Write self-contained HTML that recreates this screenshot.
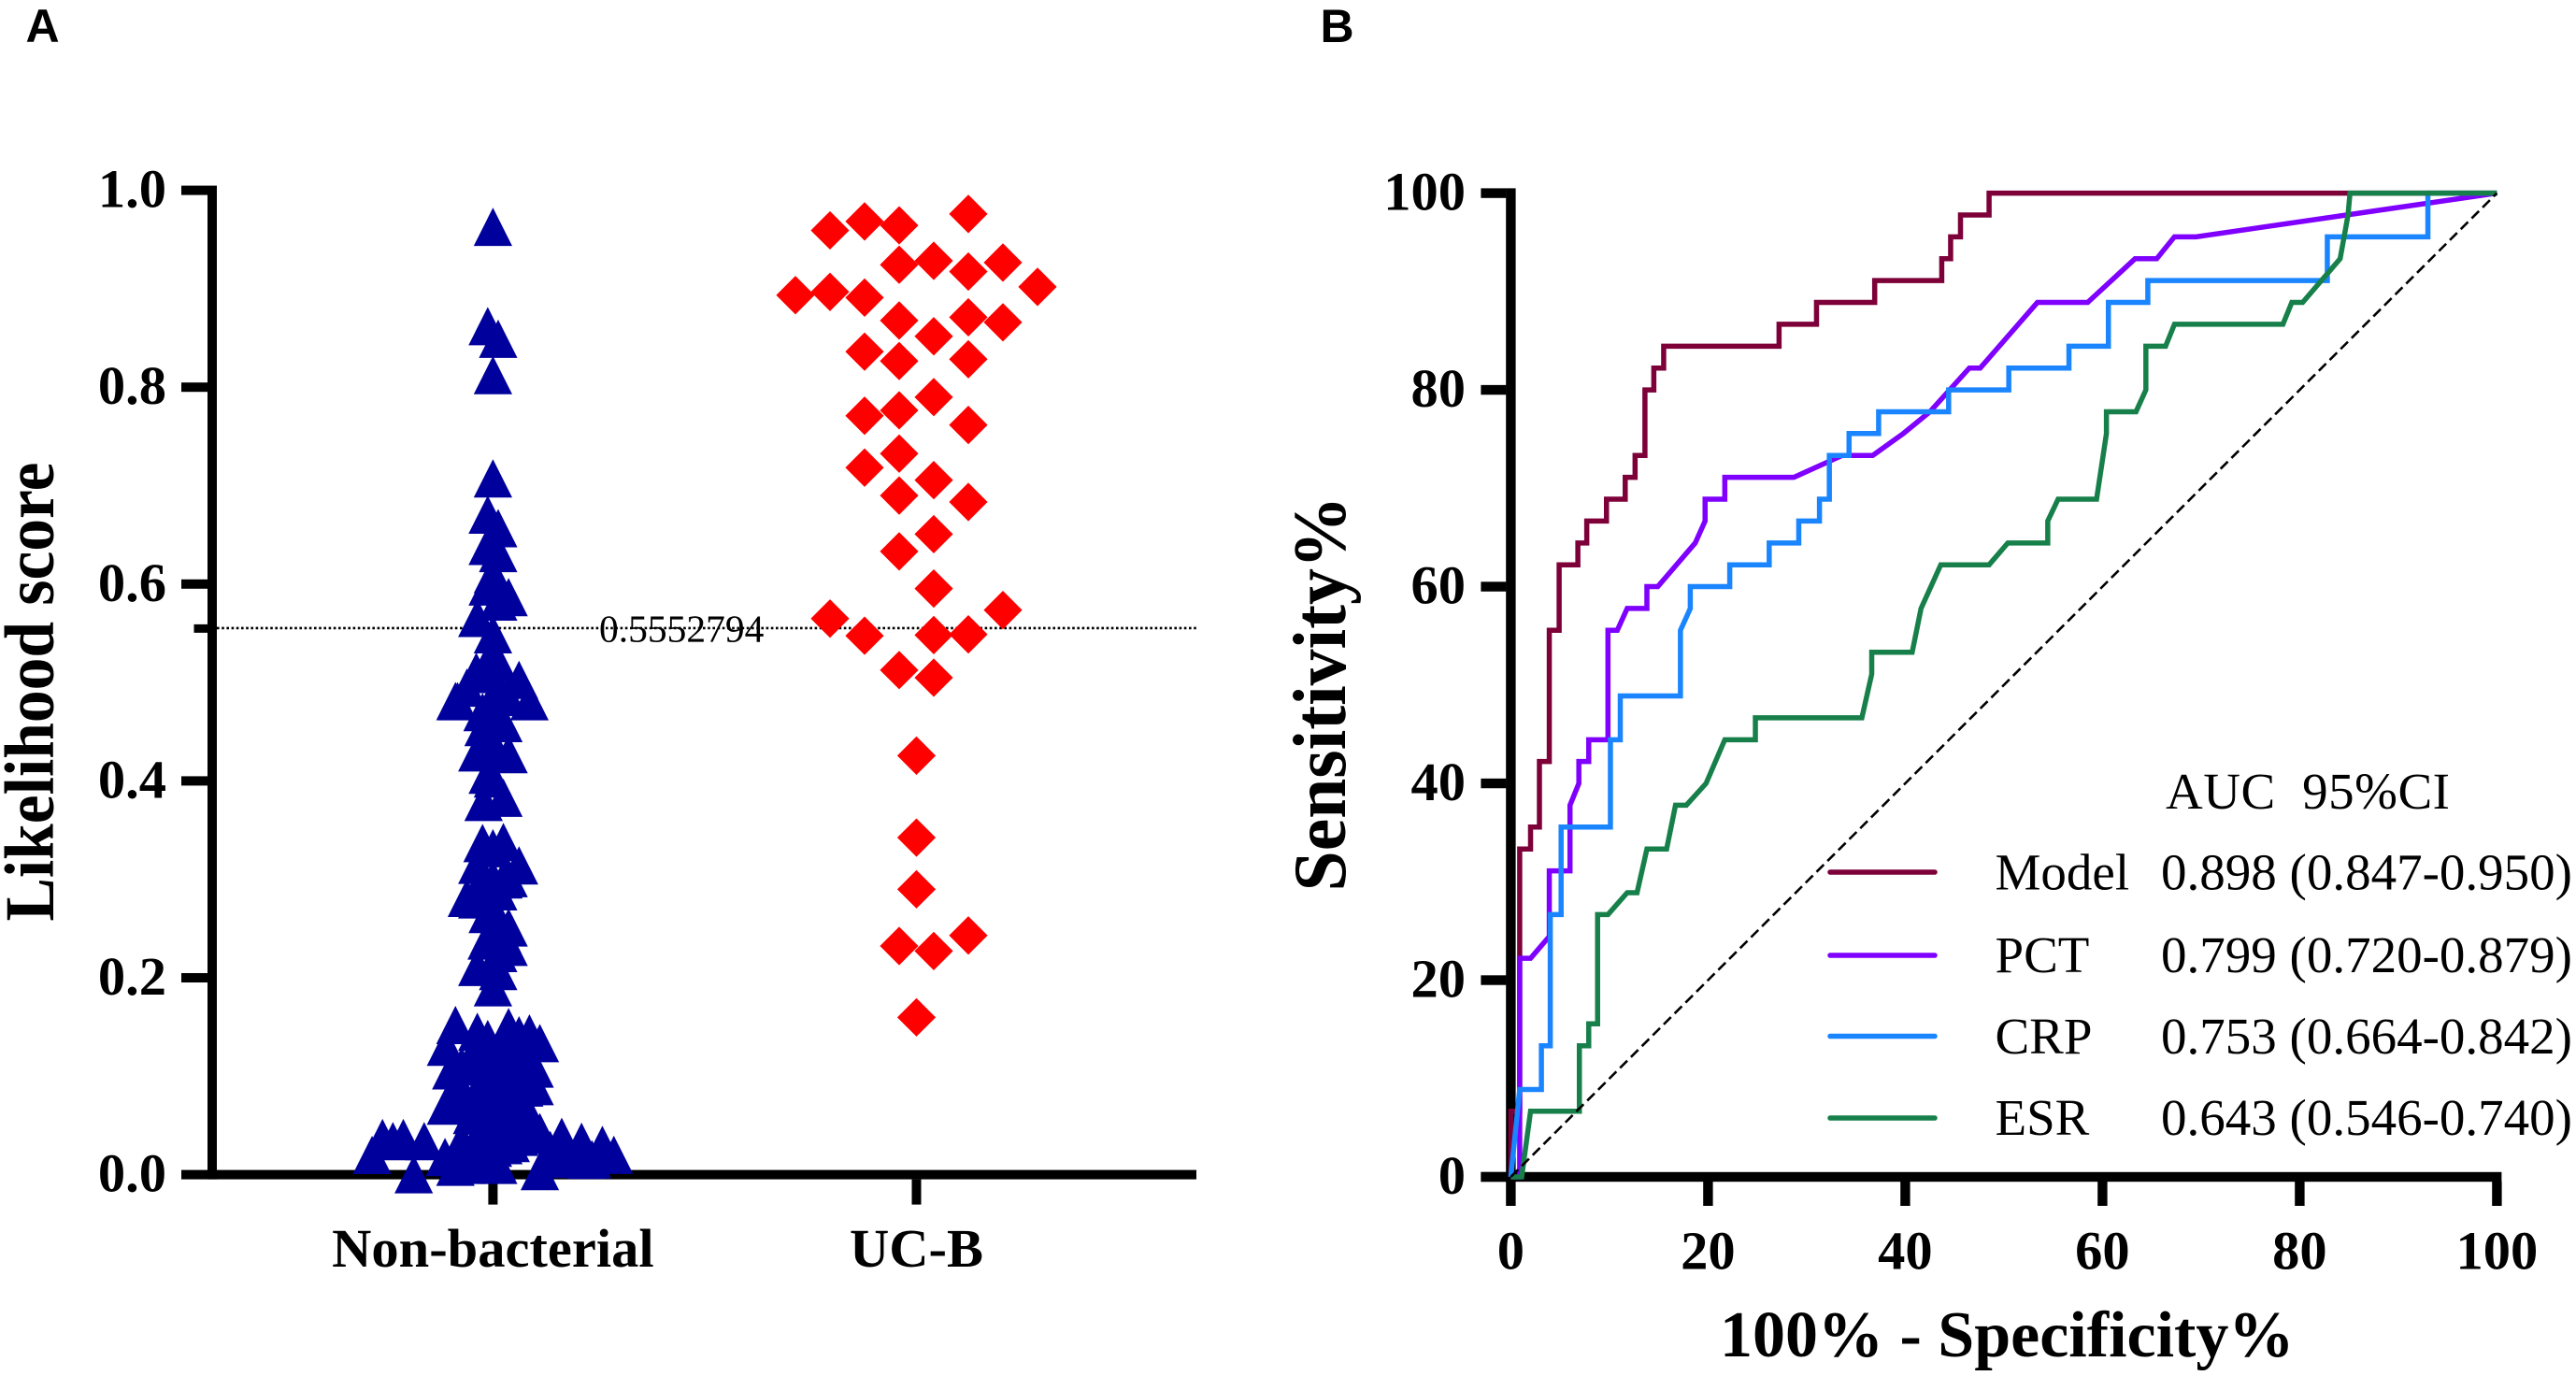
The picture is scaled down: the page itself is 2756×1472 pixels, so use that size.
<!DOCTYPE html>
<html lang="en">
<head>
<meta charset="utf-8">
<title>Likelihood score and ROC curves</title>
<style>
  html, body { margin: 0; padding: 0; background: #fff; }
  #figure { position: absolute; left: 0; top: 0; display: block; }
  text { font-family: "Liberation Serif", "Times New Roman", serif; fill: #000; }
  .bold { font-weight: 700; }
  .panel-letter { font-family: "Liberation Sans", Arial, sans-serif; font-weight: 700; font-size: 50px; }
  .tick { font-weight: 700; font-size: 58.5px; }
  .legend { font-size: 55px; white-space: pre; }
</style>
</head>
<body>
<svg id="figure" xmlns="http://www.w3.org/2000/svg" width="2756" height="1472" viewBox="0 0 2756 1472">
  <rect x="0" y="0" width="2756" height="1472" fill="#fff"/>
  <text class="panel-letter" x="27.5" y="45">A</text>
  <text class="panel-letter" x="1412.5" y="45">B</text>

  <g id="panelA"></g>
  <g id="panelB"></g>

  <text class="bold" font-size="75" text-anchor="middle" textLength="491" lengthAdjust="spacingAndGlyphs" transform="translate(57 740) rotate(-90)">Likelihood score</text>
  <text class="bold" font-size="80" text-anchor="middle" textLength="423" lengthAdjust="spacingAndGlyphs" transform="translate(1439 742) rotate(-90)">Sensitivity%</text>
  <text class="bold" font-size="70" x="1840" y="1451">100% - Specificity%</text>

  <g>
    <text class="legend" x="2317" y="865" textLength="304">AUC  95%CI</text>
    <line x1="1958" x2="2070" y1="933" y2="933" stroke="#7d0039" stroke-width="5.5" stroke-linecap="round"/>
    <text class="legend" x="2134.5" y="951.5">Model</text>
    <text class="legend" x="2312" y="951.5">0.898 (0.847-0.950)</text>
    <line x1="1958" x2="2070" y1="1022" y2="1022" stroke="#7f00ff" stroke-width="5.5" stroke-linecap="round"/>
    <text class="legend" x="2134.5" y="1040">PCT</text>
    <text class="legend" x="2312" y="1040">0.799 (0.720-0.879)</text>
    <line x1="1958" x2="2070" y1="1108.5" y2="1108.5" stroke="#1a85ff" stroke-width="5.5" stroke-linecap="round"/>
    <text class="legend" x="2134.5" y="1127">CRP</text>
    <text class="legend" x="2312" y="1127">0.753 (0.664-0.842)</text>
    <line x1="1958" x2="2070" y1="1196" y2="1196" stroke="#17804a" stroke-width="5.5" stroke-linecap="round"/>
    <text class="legend" x="2134.5" y="1214">ESR</text>
    <text class="legend" x="2312" y="1214">0.643 (0.546-0.740)</text>
  </g>
</svg>

<script>
// ---------- Panel A data ----------
const scatterCategories = ["Non-bacterial", "UC-B"];
const scatterTickLabels = ["0.0", "0.2", "0.4", "0.6", "0.8", "1.0"];
const cutoffValue = 0.5552794;
const cutoffLabel = "0.5552794";

const nonBacterialValues = [
  0.9629, 0.8620, 0.8492, 0.8123, 0.7074, 0.6706, 0.6568, 0.6388, 0.6315, 0.6100, 0.5976, 0.5822, 0.5868, 0.5656, 0.5490, 0.5300,
  0.5087, 0.5110, 0.5027, 0.4948, 0.4811, 0.4854, 0.4810, 0.4810, 0.4547, 0.4588, 0.4658, 0.4290, 0.4272, 0.4373, 0.4063, 0.4025,
  0.3829, 0.3787, 0.3369, 0.3316, 0.3379, 0.3142, 0.3148, 0.3012, 0.3000, 0.3000, 0.3000, 0.2812, 0.2797, 0.2879, 0.2700, 0.2648,
  0.2512, 0.2442, 0.2442, 0.2379, 0.2315, 0.2252, 0.2110, 0.2069, 0.1904,
  0.1520, 0.1300, 0.1060, 0.1451, 0.1378, 0.1499, 0.1416, 0.1435, 0.1337, 0.1078, 0.0885, 0.0701, 0.1100, 0.1100, 0.1100, 0.0950,
  0.0950, 0.0750, 0.0720, 0.0606, 0.0606, 0.0479, 0.0479, 0.0403, 0.0432, 0.0384, 0.0334, 0.0302, 0.0201, 0.0157, 0.0036, 0.0100,
  0.0081, 0.0179, 0.0131, 0.0274, 0.0321, 0.0163, 0.0372, 0.0340, 0.0372, 0.0340, 0.0160, 0.0004, 0.0384, 0.0340, 0.0200,
  0.5200, 0.5200, 0.4950, 0.4700, 0.1200, 0.1200, 0.1150, 0.1200, 0.1200, 0.1100, 0.0900, 0.0850, 0.0800, 0.0800, 0.0900, 0.0900,
  0.0700, 0.0700, 0.0600, 0.0600, 0.0600, 0.0350, 0.0300, 0.0450, 0.0250, 0.0200, 0.0150, 0.0100
];
const nonBacterialSlots = [
  0, -0.5, 0.5, 0, 0, -0.5, 0.5, -0.5, 0.5, 0, -0.5, 0.5, 1.5, -1.5, 0, 0,
  -0.7, -1.6, 2.5, -2.5, -3.6, 1.4, -3.4, 3.5, -0.9, 1, 0, -1.5, 1.5, 0, -0.5, 0,
  1, -0.9, -1, 0, 1, 2.5, -1.5, 1.5, 0, -1, 1, -2.5, -1.5, 0.5, 0, -0.5,
  1.5, 0.9, -0.3, -0.6, 1.5, 0.5, -1.5, 0.5, 0,
  -3.6, -4.5, -4, -1.5, -0.5, 1.5, 2.5, 3.5, 4.5, 4, 3, -4.5, -2, 0, 2, -1,
  1, -2.5, 2.3, -2, 0, -1, 1, 3.5, 4.5, 6.6, 8.5, 10.5, 11.6, 9.5, 4.5, 0.5,
  -3.6, -4.6, -1.5, 0, 1.7, 5.9, -10.6, -9.6, -8.6, -6.6, 7.7, -7.6, 2.5, -3, -11.6,
  -0.5, 0.5, 0.5, -1, -1, 1, 2, -2, 3, -3, 4, -3.5, -1, 1, 2, 0,
  0.5, 3, -1, 1, 2, -1, 1, 3, 5.5, 7, 9, -2.5
];
const ucbValues = [
  0.9760, 0.9593, 0.9684, 0.9644, 0.9244, 0.9284, 0.9175, 0.9266, 0.9019, 0.8935, 0.8968, 0.8910,
  0.8677, 0.8517, 0.8710, 0.8659, 0.8361, 0.8266, 0.8284, 0.7899, 0.7710, 0.7765, 0.7616, 0.7325,
  0.7183, 0.7056, 0.6899, 0.6834, 0.6507, 0.6332, 0.5954, 0.5649, 0.5736, 0.5475, 0.5482, 0.5489,
  0.5126, 0.5049, 0.4257, 0.3424, 0.2899, 0.2323, 0.2272, 0.2430, 0.1598
];
const ucbSlots = [
  1.5, -2.5, -1.5, -0.5, -0.5, 0.5, 1.5, 2.5, 3.5, -3.5, -2.5, -1.5,
  -0.5, 0.5, 1.5, 2.5, -1.5, -0.5, 1.5, 0.5, -1.5, -0.5, 1.5, -0.5,
  -1.5, 0.5, -0.5, 1.5, 0.5, -0.5, 0.5, -2.5, 2.5, -1.5, 0.5, 1.5,
  -0.5, 0.5, 0, 0, 0, -0.5, 0.5, 1.5, 0
];

// ---------- Panel B data ----------
const rocTickLabels = [0, 20, 40, 60, 80, 100];
const modelFpr = [0, 0, 0.9, 0.9, 2, 2, 2.9, 2.9, 3.9, 3.9, 4.9, 4.9, 6.8, 6.8, 7.7, 7.7, 9.7, 9.7, 11.6, 11.6, 12.6, 12.6, 13.6, 13.6, 14.5, 14.5, 15.5, 15.5, 27.2, 27.2, 31, 31, 36.9, 36.9, 43.7, 43.7, 44.6, 44.6, 45.6, 45.6, 48.5, 48.5, 100];
const modelTpr = [0, 6.67, 6.67, 33.33, 33.33, 35.56, 35.56, 42.22, 42.22, 55.56, 55.56, 62.22, 62.22, 64.44, 64.44, 66.67, 66.67, 68.89, 68.89, 71.11, 71.11, 73.33, 73.33, 80, 80, 82.22, 82.22, 84.44, 84.44, 86.67, 86.67, 88.89, 88.89, 91.11, 91.11, 93.33, 93.33, 95.56, 95.56, 97.78, 97.78, 100, 100];
const pctFpr = [0, 0.9, 0.9, 2, 3.9, 3.9, 6, 6, 6.9, 6.9, 7.9, 7.9, 9.85, 9.85, 10.8, 11.8, 13.8, 13.8, 14.9, 18.7, 19.7, 19.7, 21.7, 21.7, 28.7, 33.6, 36.7, 39.8, 42.5, 46.5, 47.6, 53.4, 58.5, 63.3, 65.5, 67.3, 69.5, 100];
const pctTpr = [0, 0, 22.22, 22.22, 24.44, 31.11, 31.11, 37.78, 40, 42.22, 42.22, 44.44, 44.44, 55.56, 55.56, 57.78, 57.78, 60, 60, 64.44, 66.67, 68.89, 68.89, 71.11, 71.11, 73.33, 73.33, 75.56, 77.78, 82.22, 82.22, 88.89, 88.89, 93.33, 93.33, 95.56, 95.56, 100];
const crpFpr = [0, 0.9, 3.1, 3.1, 4, 4, 5.1, 5.1, 10.1, 10.1, 11.1, 11.1, 17.2, 17.2, 18.2, 18.2, 22.2, 22.2, 26.2, 26.2, 29.2, 29.2, 31.3, 31.3, 32.3, 32.3, 34.3, 34.3, 37.3, 37.3, 44.4, 44.4, 50.5, 50.5, 56.6, 56.6, 60.6, 60.6, 64.6, 64.6, 82.8, 82.8, 93, 93, 100];
const crpTpr = [0, 8.89, 8.89, 13.33, 13.33, 26.67, 26.67, 35.56, 35.56, 44.44, 44.44, 48.89, 48.89, 55.56, 57.78, 60, 60, 62.22, 62.22, 64.44, 64.44, 66.67, 66.67, 68.89, 68.89, 73.33, 73.33, 75.56, 75.56, 77.78, 77.78, 80, 80, 82.22, 82.22, 84.44, 84.44, 88.89, 88.89, 91.11, 91.11, 95.56, 95.56, 100, 100];
const esrFpr = [0, 1.1, 2, 6.95, 6.95, 7.9, 7.9, 8.8, 8.8, 9.85, 11.8, 12.8, 13.8, 15.8, 16.7, 17.8, 19.8, 21.7, 24.8, 24.8, 35.6, 36.6, 36.6, 40.7, 41.6, 43.6, 48.5, 50.4, 54.45, 54.45, 55.5, 59.4, 60.4, 60.4, 63.4, 64.4, 64.4, 66.4, 67.3, 78.3, 79.2, 80.3, 84.1, 84.9, 85.1, 100];
const esrTpr = [0, 0, 6.67, 6.67, 13.33, 13.33, 15.56, 15.56, 26.67, 26.67, 28.89, 28.89, 33.33, 33.33, 37.78, 37.78, 40, 44.44, 44.44, 46.67, 46.67, 51.11, 53.33, 53.33, 57.78, 62.22, 62.22, 64.44, 64.44, 66.67, 68.89, 68.89, 75.56, 77.78, 77.78, 80, 84.44, 84.44, 86.67, 86.67, 88.89, 88.89, 93.33, 97.78, 100, 100];
const referenceFpr = [0, 100];
const referenceTpr = [0, 100];

// ---------- helpers ----------
const SVG_NS = "http://www.w3.org/2000/svg";
const panelA = document.getElementById("panelA");
const panelB = document.getElementById("panelB");

function scoreY(v) { return 1256.6 - 1053 * v; }
function rocX(v) { return 1616.4 + 10.55 * v; }
function rocY(v) { return 1259 - 10.524 * v; }
function makeEl(tag, parent) {
  const el = document.createElementNS(SVG_NS, tag);
  parent.appendChild(el);
  return el;
}
function setRect(el, x, y, w, h) {
  el.setAttribute("x", x);
  el.setAttribute("y", y);
  el.setAttribute("width", w);
  el.setAttribute("height", h);
  el.setAttribute("fill", "#000");
}

// ---------- Panel A axes ----------
const aYAxis = makeEl("rect", panelA);


setRect(aYAxis, 222, scoreY(1) - 5, 10, scoreY(0) - scoreY(1) + 10);
const aXAxis = makeEl("rect", panelA);


setRect(aXAxis, 222, scoreY(0) - 5, 1058, 10);

scatterTickLabels.forEach(function (label) {
  const v = parseFloat(label);
  const tick = makeEl("rect", panelA);
  
  
  setRect(tick, 194, scoreY(v) - 5, 28, 10);
  const text = makeEl("text", panelA);
  
  
  text.setAttribute("class", "tick");
  text.setAttribute("x", 178);
  text.setAttribute("y", scoreY(v) + 18);
  text.setAttribute("text-anchor", "end");
  text.textContent = label;
});

const groupCenters = [527.4, 980.5];
scatterCategories.forEach(function (name, i) {
  const tick = makeEl("rect", panelA);
  
  
  setRect(tick, groupCenters[i] - 5, scoreY(0) + 5, 10, 27);
  const text = makeEl("text", panelA);
  
  
  text.setAttribute("class", "tick");
  text.setAttribute("x", groupCenters[i]);
  text.setAttribute("y", 1355);
  text.setAttribute("text-anchor", "middle");
  text.textContent = name;
});

// cutoff
const cutoffTick = makeEl("rect", panelA);


setRect(cutoffTick, 207.5, scoreY(cutoffValue) - 4, 15, 9);
const cutoffLine = makeEl("line", panelA);


cutoffLine.setAttribute("x1", 232);
cutoffLine.setAttribute("x2", 1280);
cutoffLine.setAttribute("y1", scoreY(cutoffValue));
cutoffLine.setAttribute("y2", scoreY(cutoffValue));
cutoffLine.setAttribute("stroke", "#000");
cutoffLine.setAttribute("stroke-width", "2.6");
cutoffLine.setAttribute("stroke-dasharray", "2.6 2.6");
const cutoffText = makeEl("text", panelA);


cutoffText.setAttribute("x", 641);
cutoffText.setAttribute("y", scoreY(cutoffValue) + 14.5);
cutoffText.setAttribute("font-size", "41.5");
cutoffText.textContent = cutoffLabel;

// triangles
nonBacterialValues.forEach(function (v, i) {
  const cx = groupCenters[0] + nonBacterialSlots[i] * 11.15;
  const cy = scoreY(v);
  const tri = makeEl("polygon", panelA);
  
  
  tri.setAttribute("points", cx + "," + (cy - 20.5) + " " + (cx + 20.6) + "," + (cy + 20.5) + " " + (cx - 20.6) + "," + (cy + 20.5));
  tri.setAttribute("fill", "#00009c");
});

// diamonds
ucbValues.forEach(function (v, i) {
  const cx = groupCenters[1] + ucbSlots[i] * 37;
  const cy = scoreY(v);
  const dia = makeEl("polygon", panelA);
  
  
  dia.setAttribute("points", cx + "," + (cy - 20.6) + " " + (cx + 20.6) + "," + cy + " " + cx + "," + (cy + 20.6) + " " + (cx - 20.6) + "," + cy);
  dia.setAttribute("fill", "#ff0000");
});

// ---------- Panel B axes ----------
const bYAxis = makeEl("rect", panelB);


setRect(bYAxis, 1611.2, rocY(100) - 5.2, 10.4, rocY(0) - rocY(100) + 10.4);
const bXAxis = makeEl("rect", panelB);


setRect(bXAxis, 1584.4, rocY(0) - 5.2, rocX(100) - 1584.4 + 5, 10.4);

rocTickLabels.forEach(function (v) {
  const yTick = makeEl("rect", panelB);
  
  
  setRect(yTick, 1584.4, rocY(v) - 5.2, 27, 10.4);
  const xTick = makeEl("rect", panelB);
  
  
  setRect(xTick, rocX(v) - 5.2, rocY(0) + 5, 10.4, 26);
  const yText = makeEl("text", panelB);
  
  
  yText.setAttribute("class", "tick");
  yText.setAttribute("x", 1568);
  yText.setAttribute("y", rocY(v) + 18);
  yText.setAttribute("text-anchor", "end");
  yText.textContent = String(v);
  const xText = makeEl("text", panelB);
  
  
  xText.setAttribute("class", "tick");
  xText.setAttribute("x", rocX(v));
  xText.setAttribute("y", 1357.6);
  xText.setAttribute("text-anchor", "middle");
  xText.textContent = String(v);
});

// ---------- Panel B curves ----------
function curvePoints(xs, ys) {
  return xs.map(function (x, i) { return rocX(x) + "," + rocY(ys[i]); }).join(" ");
}
const modelCurve = makeEl("polyline", panelB);


modelCurve.setAttribute("points", curvePoints(modelFpr, modelTpr));
modelCurve.setAttribute("stroke", "#7d0039");
const pctCurve = makeEl("polyline", panelB);


pctCurve.setAttribute("points", curvePoints(pctFpr, pctTpr));
pctCurve.setAttribute("stroke", "#7f00ff");
const crpCurve = makeEl("polyline", panelB);


crpCurve.setAttribute("points", curvePoints(crpFpr, crpTpr));
crpCurve.setAttribute("stroke", "#1a85ff");
const esrCurve = makeEl("polyline", panelB);


esrCurve.setAttribute("points", curvePoints(esrFpr, esrTpr));
esrCurve.setAttribute("stroke", "#17804a");
[modelCurve, pctCurve, crpCurve, esrCurve].forEach(function (c) {
  c.setAttribute("fill", "none");
  c.setAttribute("stroke-width", "5.5");
  c.setAttribute("stroke-linejoin", "miter");
});
const referenceLine = makeEl("polyline", panelB);


referenceLine.setAttribute("points", curvePoints(referenceFpr, referenceTpr));
referenceLine.setAttribute("fill", "none");
referenceLine.setAttribute("stroke", "#000");
referenceLine.setAttribute("stroke-width", "2.6");
referenceLine.setAttribute("stroke-dasharray", "11 5.5");
</script>
</body>
</html>
